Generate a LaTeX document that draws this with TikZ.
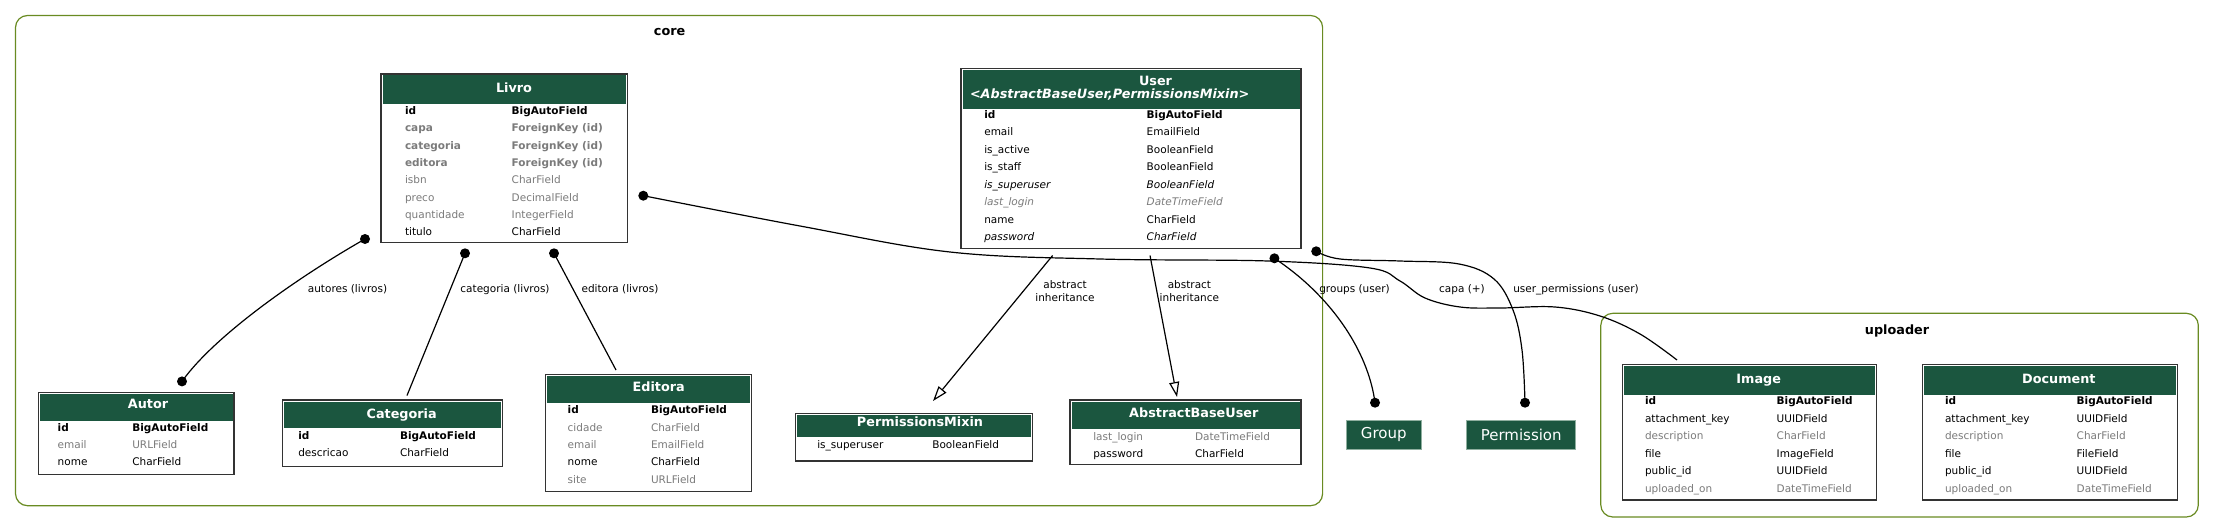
\documentclass[tikz,border=0pt]{standalone}
\usepackage{fontspec}
\setmainfont{DejaVu Sans}
\usetikzlibrary{arrows.meta}
\definecolor{hdr}{HTML}{1B563F}
\definecolor{fgray}{HTML}{7B7B7B}
\definecolor{olive}{HTML}{698B22}
\definecolor{bord}{HTML}{333333}
\definecolor{extb}{HTML}{8FAF9F}
\newcommand\rowsz{\fontsize{10.5}{12.6}\selectfont}
\newcommand\ttlsz{\fontsize{12.8}{15}\selectfont\bfseries}
\tikzset{
  cell/.style={anchor=base west, inner sep=0, outer sep=0, font=\rowsz},
  pk/.style={font=\rowsz\bfseries},
  fk/.style={font=\rowsz\bfseries, text=fgray},
  nul/.style={text=fgray},
  ita/.style={font=\rowsz\itshape},
  nita/.style={font=\rowsz\itshape, text=fgray},
  pln/.style={},
  ttl/.style={anchor=base, inner sep=0, outer sep=0, text=white, font=\ttlsz},
  modelbox/.style={draw=bord, line width=1.3pt, inner sep=0, outer sep=0},
  clusterbox/.style={draw=olive, line width=1.2pt, rounded corners=12pt, inner sep=0, outer sep=0},
  clabel/.style={anchor=base, inner sep=0, font=\ttlsz},
  extbox/.style={draw=extb, line width=1pt, fill=hdr, text=white, inner sep=0, outer sep=0, font=\fontsize{15}{18}\selectfont},
  edge/.style={draw=black, line width=1.2pt},
  inh/.style={edge, -{Triangle[open, fill=white, length=15pt, width=10pt]}},
  elabel/.style={anchor=base, inner sep=0, font=\rowsz},
  elabel2/.style={inner sep=0, font=\rowsz, align=center},
}
% #1 id, #2 L, #3 T, #4 R, #5 B, #6 header bottom
\newcommand\modeltable[6]{%
  \fill[hdr] (#2+1.5,#3+1.5) rectangle (#4-1.5,#6);
  \node[modelbox, minimum width={#4-#2}, minimum height={#5-#3}, anchor=north west] (#1) at (#2,#3) {};
}
% #1 id, #2 namex, #3 typex, #4 y, #5 style, #6 name, #7 type
\newcommand\frow[7]{%
  \node[cell,#5] (#1) at (#2,#4+3.8) {#6};
  \node[cell,#5] (#1t) at (#3,#4+3.8) {#7};
}
\newcommand\dotat[1]{\fill (#1) circle (5pt);}
\begin{document}
\begin{tikzpicture}[x=1pt,y=-1pt]
\useasboundingbox (0,0) rectangle (2215,532);
\fill[white] (0,0) rectangle (2215,532);

% clusters
\node[clusterbox, minimum width=1307.1, minimum height=490.2, anchor=north west] (core) at (15.5,15.5) {};
\node[clabel] (corelabel) at (669.6,35.5) {core};
\node[clusterbox, minimum width=597.5, minimum height=203.7, anchor=north west] (uploader) at (1600.8,313.3) {};
\node[clabel] (uploaderlabel) at (1897,334.5) {uploader};

% Livro
\modeltable{livro}{381}{74}{627.7}{242.7}{104}
\node[ttl] (livrottl) at (514,92.5) {Livro};
\frow{lv1}{405}{511.7}{110.7}{pk}{id}{BigAutoField}
\frow{lv2}{405}{511.7}{128.0}{fk}{capa}{ForeignKey (id)}
\frow{lv3}{405}{511.7}{145.3}{fk}{categoria}{ForeignKey (id)}
\frow{lv4}{405}{511.7}{162.6}{fk}{editora}{ForeignKey (id)}
\frow{lv5}{405}{511.7}{179.9}{nul}{isbn}{CharField}
\frow{lv6}{405}{511.7}{197.2}{nul}{preco}{DecimalField}
\frow{lv7}{405}{511.7}{214.5}{nul}{quantidade}{IntegerField}
\frow{lv8}{405}{511.7}{231.8}{pln}{titulo}{CharField}

% User
\modeltable{user}{961}{68.3}{1301}{248.3}{109.3}
\node[ttl] (userttl) at (1155.5,85.5) {User};
\node[ttl, anchor=base west, font=\ttlsz\itshape] (usersub) at (970,98.8) {<AbstractBaseUser,PermissionsMixin>};
\frow{us1}{984.3}{1146.7}{114.3}{pk}{id}{BigAutoField}
\frow{us2}{984.3}{1146.7}{131.8}{pln}{email}{EmailField}
\frow{us3}{984.3}{1146.7}{149.4}{pln}{is\_active}{BooleanField}
\frow{us4}{984.3}{1146.7}{166.9}{pln}{is\_staff}{BooleanField}
\frow{us5}{984.3}{1146.7}{184.4}{ita}{is\_superuser}{BooleanField}
\frow{us6}{984.3}{1146.7}{201.9}{nita}{last\_login}{DateTimeField}
\frow{us7}{984.3}{1146.7}{219.5}{pln}{name}{CharField}
\frow{us8}{984.3}{1146.7}{237.0}{ita}{password}{CharField}

% Autor
\modeltable{autor}{38.3}{392.3}{234}{474.3}{420.7}
\node[ttl] (autorttl) at (148,408.8) {Autor};
\frow{au1}{57.7}{132.3}{427.3}{pk}{id}{BigAutoField}
\frow{au2}{57.7}{132.3}{444.3}{nul}{email}{URLField}
\frow{au3}{57.7}{132.3}{461.3}{pln}{nome}{CharField}

% Categoria
\modeltable{categoria}{282.7}{400}{502.3}{466.7}{428.3}
\node[ttl] (categoriattl) at (401.7,418.5) {Categoria};
\frow{ca1}{298.3}{400}{435.7}{pk}{id}{BigAutoField}
\frow{ca2}{298.3}{400}{452.7}{pln}{descricao}{CharField}

% Editora
\modeltable{editora}{545.7}{374.3}{751.7}{491.6}{403.3}
\node[ttl] (editorattl) at (658.7,391.8) {Editora};
\frow{ed1}{567.7}{651}{410}{pk}{id}{BigAutoField}
\frow{ed2}{567.7}{651}{427.3}{nul}{cidade}{CharField}
\frow{ed3}{567.7}{651}{444.6}{nul}{email}{EmailField}
\frow{ed4}{567.7}{651}{461.9}{pln}{nome}{CharField}
\frow{ed5}{567.7}{651}{479.2}{nul}{site}{URLField}

% PermissionsMixin
\modeltable{pmixin}{795.7}{413.3}{1032.3}{461}{436.7}
\node[ttl] (pmixinttl) at (920,426.8) {PermissionsMixin};
\frow{pm1}{817.3}{932.3}{444.3}{pln}{is\_superuser}{BooleanField}

% AbstractBaseUser
\modeltable{abuser}{1070}{400}{1301}{464.3}{429.3}
\node[ttl] (abuserttl) at (1193.8,417.8) {AbstractBaseUser};
\frow{ab1}{1093.3}{1195}{436.7}{nul}{last\_login}{DateTimeField}
\frow{ab2}{1093.3}{1195}{453.7}{pln}{password}{CharField}

% Image
\modeltable{image}{1622.3}{364.3}{1876.7}{500}{395}
\node[ttl] (imagettl) at (1758.7,383.5) {Image};
\frow{im1}{1645}{1776.7}{400.7}{pk}{id}{BigAutoField}
\frow{im2}{1645}{1776.7}{418.2}{pln}{attachment\_key}{UUIDField}
\frow{im3}{1645}{1776.7}{435.7}{nul}{description}{CharField}
\frow{im4}{1645}{1776.7}{453.2}{pln}{file}{ImageField}
\frow{im5}{1645}{1776.7}{470.7}{pln}{public\_id}{UUIDField}
\frow{im6}{1645}{1776.7}{488.2}{nul}{uploaded\_on}{DateTimeField}

% Document
\modeltable{document}{1922.3}{364.3}{2177.7}{500}{395}
\node[ttl] (documentttl) at (2058.8,383.5) {Document};
\frow{do1}{1945}{2076.7}{400.7}{pk}{id}{BigAutoField}
\frow{do2}{1945}{2076.7}{418.2}{pln}{attachment\_key}{UUIDField}
\frow{do3}{1945}{2076.7}{435.7}{nul}{description}{CharField}
\frow{do4}{1945}{2076.7}{453.2}{pln}{file}{FileField}
\frow{do5}{1945}{2076.7}{470.7}{pln}{public\_id}{UUIDField}
\frow{do6}{1945}{2076.7}{488.2}{nul}{uploaded\_on}{DateTimeField}

% external
\node[extbox, minimum width=75, minimum height=29.6] (group) at (1383.7,434.8) {Group};
\node[extbox, minimum width=109, minimum height=29.6] (permission) at (1521.2,434.8) {Permission};

% edge end points
\coordinate (a1s) at (365,239);
\coordinate (a1e) at (182,381.4);
\coordinate (c1s) at (465,253.3);
\coordinate (c1e) at (407,395.5);
\coordinate (e1s) at (554,253.3);
\coordinate (e1e) at (616,370);
\coordinate (capas) at (643.3,195.7);
\coordinate (capae) at (1677,360);
\coordinate (i1s) at (1052.6,255.5);
\coordinate (i1e) at (933,401);
\coordinate (i2s) at (1150,255.5);
\coordinate (i2e) at (1177,397);
\coordinate (g1s) at (1274.4,258.3);
\coordinate (g1e) at (1375,402.7);
\coordinate (p1s) at (1316.2,251.3);
\coordinate (p1e) at (1525,402.7);

% edges
\draw[edge] (a1s) .. controls (300,276) and (215,335) .. (a1e);
\draw[edge] (c1s) -- (c1e);
\draw[edge] (e1s) -- (e1e);
\draw[edge] plot[smooth, tension=0.6] coordinates {(capas) (800,226) (950,252) (1100,259) (1268,261) (1370,268) (1400,281) (1425,298) (1460,307) (1500,308) (1555,307) (1600,316) (1640,334) (capae)};
\draw[inh] (i1s) -- (i1e);
\draw[inh] (i2s) -- (i2e);
\draw[edge] (g1s) .. controls (1330,295) and (1368,350) .. (g1e);
\draw[edge] plot[smooth, tension=0.6] coordinates {(p1s) (1340,259) (1400,261) (1459,264) (1494,279) (1513,310) (1522,350) (p1e)};

\dotat{a1s}\dotat{a1e}\dotat{c1s}\dotat{e1s}\dotat{capas}
\dotat{g1s}\dotat{g1e}\dotat{p1s}\dotat{p1e}

% edge labels
\node[elabel] (l1) at (347.5,292.8) {autores (livros)};
\node[elabel] (l2) at (505,292.8) {categoria (livros)};
\node[elabel] (l3) at (620,292.8) {editora (livros)};
\node[elabel2] (l4) at (1065,290.8) {abstract\\inheritance};
\node[elabel2] (l5) at (1189.4,290.8) {abstract\\inheritance};
\node[elabel] (l6) at (1354.5,292.8) {groups (user)};
\node[elabel] (l7) at (1462,292.8) {capa (+)};
\node[elabel] (l8) at (1576,292.8) {user\_permissions (user)};
\end{tikzpicture}
\end{document}
